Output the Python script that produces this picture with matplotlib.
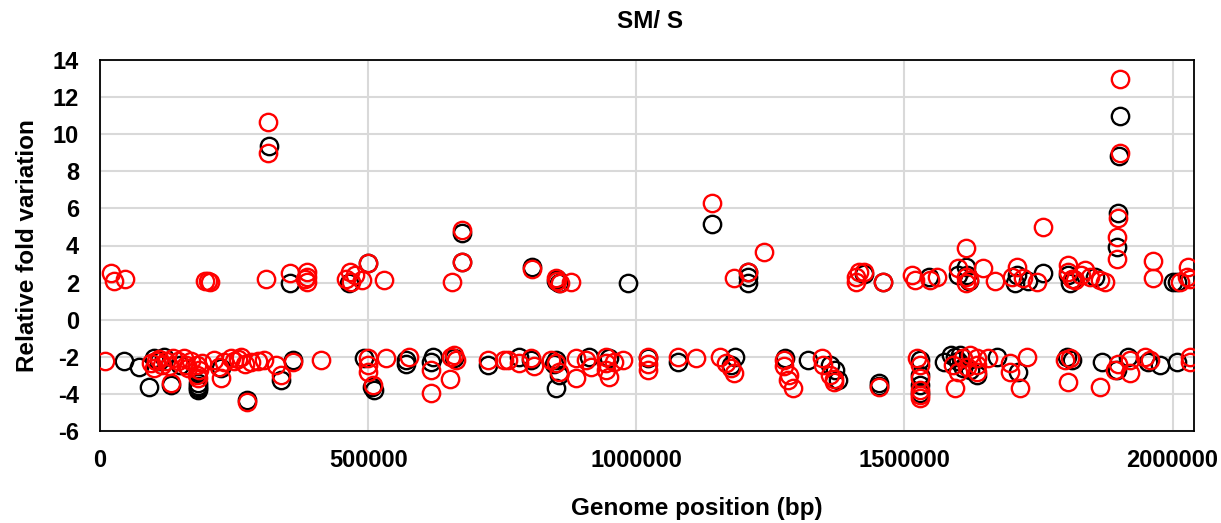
import numpy as np
import matplotlib; matplotlib.use("Agg")
import matplotlib.pyplot as plt

plt.rcParams['font.family'] = ['Liberation Sans', 'DejaVu Sans']
plt.rcParams['font.weight'] = 'bold'

TITLE = "SM/ S"
X_LABEL = "Genome position (bp)"
Y_LABEL = "Relative fold variation"
X_TICKS = [0, 500000, 1000000, 1500000, 2000000]
Y_TICKS = [-6, -4, -2, 0, 2, 4, 6, 8, 10, 12, 14]

# black series (drawn underneath)
black_x = [316000, 355000, 465000, 500000, 675000, 675000, 805000, 850000, 855000, 853000,
           984000, 1142000, 1208000, 1208000, 1208000, 1424000, 1461000, 1545000, 1614000, 1599000,
           1617000, 1710000, 1707000, 1731000, 1759000, 1805000, 1809000, 1856000, 1899000, 1897000,
           1902000, 1900000, 2001000, 2008000, 1815000, 1620000,
           44000, 72000, 92000, 120000, 133000, 110000, 183000, 183000, 183000, 183000,
           226000, 275000, 338000, 360000, 493000, 511000, 508000, 571000, 571000, 617000,
           621000, 660000, 723000, 781000, 804000, 850000, 846000, 855000, 850000, 911000,
           949000, 1021000, 1077000, 1185000, 1176000, 1278000, 1321000, 1362000, 1371000, 1377000,
           1452000, 1452000, 1530000, 1530000, 1530000, 1530000, 1573000, 1587000, 1595000, 1604000,
           1623000, 1636000, 1673000, 1712000, 1803000, 1813000, 1868000, 1897000, 1917000, 1954000,
           1977000, 2008000, 1599000, 1610000, 100000, 150000]
black_y = [9.37, 1.98, 1.98, 3.06, 4.68, 3.11, 2.84, 2.10, 1.98, 2.20,
           1.97, 5.16, 2.30, 1.98, 2.55, 2.46, 2.03, 2.30, 2.84, 2.41,
           2.41, 2.41, 1.98, 2.08, 2.52, 2.41, 1.98, 2.30, 5.76, 3.92,
           10.99, 8.83, 2.03, 2.03, 2.20, 2.10,
           -2.25, -2.56, -3.64, -2.03, -3.53, -2.20, -3.42, -3.59, -3.70, -3.80,
           -2.61, -4.34, -3.26, -2.19, -2.08, -3.80, -3.64, -2.19, -2.40, -2.29,
           -2.03, -2.08, -2.45, -2.03, -2.19, -2.19, -2.40, -2.99, -3.69, -2.03,
           -2.08, -2.08, -2.29, -2.03, -2.45, -2.08, -2.19, -2.45, -2.72, -3.26,
           -3.42, -3.60, -2.19, -2.99, -3.53, -3.96, -2.29, -1.92, -2.03, -1.92,
           -2.72, -2.99, -2.03, -2.83, -2.03, -2.19, -2.29, -2.72, -2.03, -2.29,
           -2.45, -2.29, -2.20, -2.60, -2.08, -2.45]

# red series (drawn on top)
red_x = [21000, 27000, 47000, 195000, 202000, 205000, 310000, 314000, 314000, 355000,
         386000, 386000, 386000, 383000, 466000, 468000, 459000, 475000, 500000, 489000,
         530000, 656000, 675000, 675000, 805000, 850000, 853000, 858000, 878000, 1142000,
         1182000, 1208000, 1238000, 1409000, 1409000, 1415000, 1424000, 1461000, 1515000, 1520000,
         1548000, 1560000, 1614000, 1599000, 1614000, 1614000, 1620000, 1647000, 1669000, 1710000,
         1701000, 1721000, 1748000, 1759000, 1805000, 1805000, 1818000, 1837000, 1846000, 1865000,
         1874000, 1899000, 1897000, 1897000, 1902000, 1902000, 1964000, 1964000, 2014000, 2027000,
         2029000, 2032000, 1830000, 1812000,
         10000, 96000, 105000, 115000, 124000, 129000, 137000, 133000, 157000, 161000,
         180000, 180000, 183000, 170000, 213000, 221000, 226000, 245000, 250000, 263000,
         275000, 282000, 295000, 306000, 329000, 338000, 360000, 413000, 500000, 500000,
         500000, 509000, 533000, 576000, 617000, 617000, 653000, 654000, 664000, 660000,
         723000, 753000, 760000, 781000, 804000, 809000, 841000, 850000, 855000, 887000,
         887000, 906000, 915000, 943000, 943000, 943000, 949000, 958000, 975000, 1021000,
         1021000, 1021000, 1077000, 1111000, 1157000, 1167000, 1176000, 1182000, 1275000, 1275000,
         1284000, 1282000, 1293000, 1347000, 1349000, 1362000, 1368000, 1368000, 1452000, 1524000,
         1530000, 1530000, 1530000, 1530000, 1530000, 1591000, 1599000, 1610000, 1623000, 1617000,
         1595000, 1636000, 1636000, 1636000, 1656000, 1697000, 1697000, 1716000, 1729000, 1800000,
         1809000, 1805000, 1865000, 1893000, 1899000, 1921000, 1921000, 1949000, 1958000, 2032000,
         2032000, 100000, 110000, 145000, 165000, 185000, 190000, 232000, 258000, 270000]
red_y = [2.52, 2.10, 2.19, 2.08, 2.08, 2.05, 2.19, 10.67, 9.00, 2.52,
         2.57, 2.30, 2.03, 2.19, 2.57, 2.03, 2.19, 2.40, 3.06, 2.14,
         2.14, 2.03, 4.84, 3.11, 2.73, 2.25, 2.08, 2.00, 2.03, 6.30,
         2.25, 2.57, 3.65, 2.30, 2.03, 2.57, 2.57, 2.03, 2.41, 2.14,
         2.14, 2.30, 3.87, 2.79, 2.30, 1.98, 2.14, 2.79, 2.08, 2.84,
         2.30, 2.25, 2.03, 5.00, 2.95, 2.57, 2.14, 2.68, 2.30, 2.14,
         2.03, 5.49, 4.46, 3.27, 12.99, 9.00, 3.16, 2.25, 2.03, 2.30,
         2.84, 2.20, 2.40, 2.20,
         -2.24, -2.35, -2.24, -2.45, -2.24, -2.50, -2.08, -3.42, -2.08, -2.45,
         -2.45, -2.99, -3.15, -2.24, -2.19, -2.56, -3.15, -2.08, -2.24, -2.03,
         -4.45, -2.30, -2.24, -2.19, -2.45, -2.99, -2.29, -2.19, -2.08, -2.45,
         -2.83, -3.53, -2.08, -2.03, -2.72, -3.96, -3.21, -2.03, -2.19, -1.92,
         -2.19, -2.19, -2.19, -2.35, -2.08, -2.50, -2.19, -2.35, -2.83, -3.15,
         -2.08, -2.19, -2.56, -2.03, -2.35, -2.72, -3.10, -2.30, -2.19, -2.03,
         -2.40, -2.72, -2.03, -2.08, -2.03, -2.35, -2.61, -2.88, -2.19, -2.50,
         -2.99, -3.26, -3.69, -2.08, -2.45, -2.99, -3.37, -3.20, -3.64, -2.08,
         -2.45, -3.15, -3.80, -4.07, -4.23, -2.45, -2.83, -2.08, -1.92, -2.56,
         -3.69, -2.08, -2.45, -2.83, -2.08, -2.35, -2.83, -3.69, -2.03, -2.19,
         -2.08, -3.37, -3.64, -2.72, -2.40, -2.19, -2.88, -2.03, -2.19, -2.03,
         -2.29, -2.60, -2.10, -2.20, -2.60, -2.70, -2.35, -2.30, -2.10, -2.40]

fig = plt.figure(figsize=(12.21, 5.23), dpi=100)
ax = fig.add_axes([100/1221, 1 - 431/523, 1094/1221, 371/523])

ax.plot(black_x, black_y, ls="none", marker="o", ms=12.5, mew=1.7,
        mfc="none", mec="#000000", zorder=3)
ax.plot(red_x, red_y, ls="none", marker="o", ms=12.5, mew=1.7,
        mfc="none", mec="#ff0000", zorder=4)

ax.set_xlim(0, 2040000)
ax.set_ylim(-6, 14)
ax.set_xticks(X_TICKS)
ax.set_xticklabels([str(v) for v in X_TICKS])
ax.set_yticks(Y_TICKS)
ax.set_yticklabels([str(v) for v in Y_TICKS])
ax.tick_params(axis="both", length=0, labelsize=17)
ax.tick_params(axis="x", pad=13)
ax.tick_params(axis="y", pad=15)
ax.grid(color="#d9d9d9", lw=1.5, zorder=0)
ax.set_axisbelow(True)
for s in ax.spines.values():
    s.set_color("black"); s.set_linewidth(1.3)

ax.set_ylabel(Y_LABEL, fontsize=17.5, fontweight="bold", labelpad=10)
fig.text(697/1221, 1 - 508/523, X_LABEL, ha="center", va="center",
         fontsize=17.5, fontweight="bold")
fig.text(650/1221, 1 - 22/523, TITLE, ha="center", va="center",
         fontsize=17.5, fontweight="bold")

plt.savefig("out.png", dpi=100)
plt.close(fig)
